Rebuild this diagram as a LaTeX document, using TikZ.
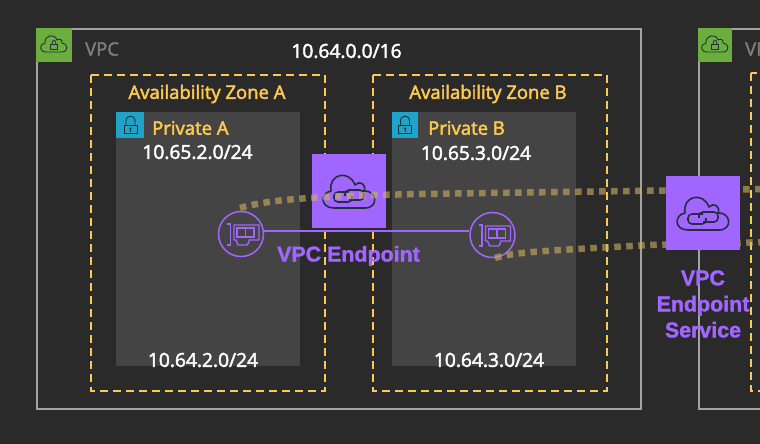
\documentclass[tikz,border=0pt]{standalone}
\usepackage{fontspec}
\setmainfont{Open Sans}
\newfontfamily\purplefont{Liberation Sans}[Scale=1]
\definecolor{bgc}{HTML}{2A2A2A}
\definecolor{vpcline}{HTML}{A3A3A3}
\definecolor{vpctxt}{HTML}{7F7F7F}
\definecolor{tagg}{HTML}{6CAE3E}
\definecolor{tagb}{HTML}{1FA3C9}
\definecolor{subc}{HTML}{444444}
\definecolor{yel}{HTML}{FFC94D}
\definecolor{purp}{HTML}{A166FF}
\definecolor{purtxt}{HTML}{A166FF}
\definecolor{dotc}{HTML}{CDB060}
\definecolor{icon}{HTML}{232F3E}
\tikzset{
  vpcbox/.style={draw=vpcline,line width=1.6pt},
  azbox/.style={draw=yel,line width=1.6pt,dash pattern=on 8pt off 5pt},
  subbox/.style={fill=subc},
  gtag/.style={fill=tagg},
  btag/.style={fill=tagb},
  psq/.style={fill=purp},
  enic/.style={circle,draw=purp,line width=1.5pt,minimum size=45pt,inner sep=0pt},
  wtxt/.style={text=white,font=\fontsize{19.2}{22}\selectfont\addfontfeature{FakeBold=2.5},inner sep=0pt},
  ytxt/.style={text=yel,font=\fontsize{18.5}{22}\selectfont\addfontfeature{FakeBold=2.5},inner sep=0pt},
  gtxt/.style={text=vpctxt,font=\fontsize{18.5}{22}\selectfont\addfontfeature{FakeBold=1.5},inner sep=0pt},
  ptxt/.style={text=purtxt,font=\fontsize{21.4}{26}\selectfont\purplefont\bfseries\addfontfeature{FakeBold=1.5},inner sep=0pt,align=center},
  dots/.style={draw=dotc,opacity=.6,line width=6.5pt,dash pattern=on 6.5pt off 5.5pt},
  link/.style={draw=purp,line width=1.5pt},
  cloudp/.pic={
    \draw[icon,line width=1.6pt,line join=round]
      (-15,17) .. controls (-29,17) and (-29,2) .. (-18,0)
      .. controls (-21,-17) and (0,-22) .. (6,-6)
      .. controls (10,-11) and (18,-7) .. (15,0)
      .. controls (28,-1) and (30,17) .. (16,17) -- cycle;
    \draw[icon,line width=1.6pt,rounded corners=4pt]
      (0,1) -- (-15,1) -- (-15,11) -- (3,11) -- (3,5);
    \draw[icon,line width=1.6pt,rounded corners=4pt]
      (-4,5) -- (-4,-1) -- (15,-1) -- (15,9) -- (0,9);
  },
  cloudlock/.pic={
    \draw[icon,line width=.9pt,line join=round]
      (-8,8) .. controls (-15,8) and (-15,0) .. (-9,-1)
      .. controls (-10,-9) and (1,-11) .. (3,-4)
      .. controls (5,-6) and (9,-4) .. (8,-1)
      .. controls (14,-1) and (15,8) .. (8,8) -- cycle;
    \draw[icon,line width=.8pt] (-3.5,0) rectangle (3.5,5);
    \draw[icon,line width=.8pt] (-2,0) .. controls (-2,-5) and (2,-5) .. (2,0);
  },
  padlock/.pic={
    \draw[icon,line width=.9pt] (-6.5,0) rectangle (6.5,8.5);
    \draw[icon,line width=.9pt] (-4.5,0) -- (-4.5,-4) .. controls (-4.5,-10.5) and (4.5,-10.5) .. (4.5,-4) -- (4.5,0);
    \fill[icon] (0,3.5) circle (1.1pt);
    \draw[icon,line width=.7pt] (0,3.5) -- (0,6.5);
  },
  nicp/.pic={
    \draw[purp,line width=1.4pt] (-14,-10) -- (-10.5,-10) -- (-10.5,11) -- (-14,11);
    \draw[purp,line width=1.4pt,line join=round] (-7,-9) -- (18,-9) -- (18,6) -- (8,6) -- (8,8) -- (6,11) -- (-3,11) -- (-5,6) -- (-7,6) -- cycle;
    \draw[purp,line width=1.4pt] (-4,-6) rectangle (13,3);
    \draw[purp,line width=1.4pt] (4.5,-6) -- (4.5,3);
  }
}
\begin{document}
\begin{tikzpicture}[x=1pt,y=-1pt]
\useasboundingbox (0,0) rectangle (760,444);
\clip (0,0) rectangle (760,444);
\fill[bgc] (0,0) rectangle (760,444);
% VPC boxes
\draw[vpcbox] (37,29) rectangle (641,409);
\draw[vpcbox] (699,29) rectangle (790,409);
% Availability zones
\draw[azbox] (91,75) rectangle (325,391);
\draw[azbox] (373,75) rectangle (607,391);
\draw[azbox] (751,73) rectangle (800,391);
% Subnets
\fill[subbox] (116,112) rectangle (300,366);
\fill[subbox] (392,112) rectangle (576,366);
% Tags
\fill[gtag] (36,28) rectangle (72,62);
\fill[gtag] (698,28) rectangle (732,62);
\fill[btag] (116,112) rectangle (144,138);
\fill[btag] (392,112) rectangle (418,138);
\pic at (54,44) {cloudlock};
\pic at (715,44) {cloudlock};
\pic at (130.5,125) {padlock};
\pic at (405,125) {padlock};
% Labels
\node[gtxt,anchor=west] (vpcA) at (85,49) {VPC};
\node[gtxt,anchor=west] (vpcB) at (745,49) {VPC};
\node[wtxt] (cidrV) at (346.5,51) {10.64.0.0/16};
\node[ytxt] (azA) at (207,94) {Availability Zone A};
\node[ytxt] (azB) at (488,94) {Availability Zone B};
\node[ytxt,anchor=west] (prA) at (152,128) {Private A};
\node[ytxt,anchor=west] (prB) at (428,128) {Private B};
\node[wtxt] (c1) at (197.5,152) {10.65.2.0/24};
\node[wtxt] (c2) at (476,153) {10.65.3.0/24};
\node[wtxt] (c3) at (203,360) {10.64.2.0/24};
\node[wtxt] (c4) at (489,360) {10.64.3.0/24};
% Endpoint square
\node[psq,minimum size=74pt,inner sep=0pt] (ep) at (349,191) {};
\pic at (349,191) {cloudp};
% ENIs
\node[enic] (eniA) at (241,234) {};
\node[enic] (eniB) at (492.5,235) {};
\pic at (241,234) {nicp};
\pic at (492.5,235) {nicp};
\draw[link] (eniA.east |- 0,231) -- (eniB.west |- 0,231);
% Dotted traffic
\coordinate (d1s) at (240,208);
\coordinate (d1e) at (770,189);
\coordinate (d2s) at (495,258);
\coordinate (d2e) at (770,242);
\draw[dots] (d1s) .. controls (270,199) and (320,196) .. (420,194) -- (d1e);
\draw[dots] (d2s) .. controls (515,252) and (540,251) .. (650,245) -- (d2e);
% Service square
\node[psq,minimum size=74pt,inner sep=0pt] (svc) at (703,213) {};
\pic at (703,213) {cloudp};
% Purple labels
\node[ptxt] (epL) at (348.5,256) {VPC Endpoint};
\node[ptxt] (svcL) at (703,304) {VPC\\Endpoint\\Service};
\end{tikzpicture}
\end{document}
